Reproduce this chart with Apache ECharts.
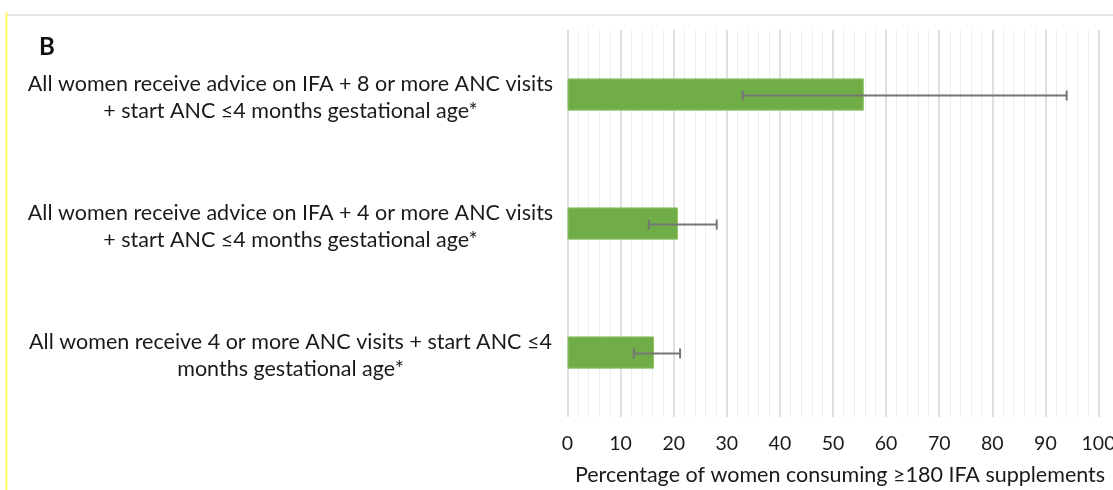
<!DOCTYPE html>
<html>
<head>
<meta charset="utf-8">
<script src="https://cdn.jsdelivr.net/npm/echarts@6/dist/echarts.min.js"></script>
<style>
  html, body { margin: 0; padding: 0; background: #ffffff; overflow: hidden; }
  #chart { width: 1113px; height: 490px; }
</style>
</head>
<body>
<div id="chart"></div>
<script>
// Scenario labels (top to bottom)
const categories = [
  'All women receive advice on IFA + 8 or more ANC visits\n+ start ANC \u22644 months gestational age*',
  'All women receive advice on IFA + 4 or more ANC visits\n+ start ANC \u22644 months gestational age*',
  'All women receive 4 or more ANC visits + start ANC \u22644\nmonths gestational age*'
];
// Estimated percentage and uncertainty interval for each scenario
const values = [55.8, 20.8, 16.3];
const lowerBounds = [33.0, 15.3, 12.5];
const upperBounds = [94.0, 28.1, 21.2];
const xTicks = [0, 10, 20, 30, 40, 50, 60, 70, 80, 90, 100];

const FONT = 'Lato, "Open Sans", sans-serif';

const chart = echarts.init(document.getElementById('chart'), null, { renderer: 'canvas' });

const errorData = categories.map((c, i) => [i, lowerBounds[i], upperBounds[i]]);

chart.setOption({
  animation: false,
  backgroundColor: '#ffffff',
  textStyle: { fontFamily: FONT },
  // fixed plot area; labels are allowed to run to the canvas edge
  grid: { left: 567.5, right: 14.5, top: 30, bottom: 73, containLabel: false, outerBoundsMode: 'none' },
  xAxis: {
    type: 'value',
    min: xTicks[0],
    max: xTicks[xTicks.length - 1],
    interval: 10,
    name: 'Percentage of women consuming \u2265180 IFA supplements',
    nameLocation: 'middle',
    nameGap: 47.5,
    nameTextStyle: { fontSize: 21.5, color: '#1a1a1a', fontFamily: FONT, padding: [0, 0, 0, 14] },
    axisLine: { show: false },
    axisTick: { show: false },
    axisLabel: { fontSize: 19.5, color: '#1a1a1a', margin: 17, fontFamily: FONT },
    splitLine: { show: true, lineStyle: { color: '#d9d9d9', width: 1.6 } },
    minorTick: { show: false, splitNumber: 5 },
    minorSplitLine: { show: true, lineStyle: { color: '#eeeeee', width: 1 } }
  },
  yAxis: {
    type: 'category',
    data: categories,
    inverse: true,
    axisLine: { show: false },
    axisTick: { show: false },
    axisLabel: {
      align: 'center',
      margin: 277,
      // a thin spacer line on top nudges each two-line label slightly downward
      formatter: function (v) {
        return '{gap| }\n' + v.split('\n').map(function (s) { return '{t|' + s + '}'; }).join('\n');
      },
      rich: {
        gap: { fontSize: 2, lineHeight: 6 },
        t: { fontSize: 21.5, lineHeight: 27, color: '#1a1a1a', fontFamily: FONT, align: 'center' }
      }
    },
    splitLine: { show: false }
  },
  graphic: [
    { type: 'line', shape: { x1: 7, y1: 15, x2: 1113, y2: 15 }, style: { stroke: '#e4e4e4', lineWidth: 2 }, silent: true },
    { type: 'line', shape: { x1: 6.5, y1: 12, x2: 6.5, y2: 490 }, style: { stroke: '#ffff66', lineWidth: 2 }, silent: true },
    { type: 'text', left: 39, top: 35, style: { text: 'B', font: 'bold 24px ' + FONT, fill: '#111111' }, silent: true }
  ],
  series: [
    {
      type: 'bar',
      data: values,
      barWidth: '25%',
      itemStyle: { color: '#70ad47', borderColor: '#8fc46a', borderWidth: 1 },
      silent: true
    },
    {
      type: 'custom',
      data: errorData,
      silent: true,
      z: 5,
      renderItem: function (params, api) {
        const idx = api.value(0);
        const lo = api.coord([api.value(1), idx]);
        const hi = api.coord([api.value(2), idx]);
        const y = lo[1] + 1;
        const cap = 5;
        const style = { stroke: '#767676', lineWidth: 2 };
        return {
          type: 'group',
          children: [
            { type: 'line', shape: { x1: lo[0], y1: y, x2: hi[0], y2: y }, style: style },
            { type: 'line', shape: { x1: lo[0], y1: y - cap, x2: lo[0], y2: y + cap }, style: style },
            { type: 'line', shape: { x1: hi[0], y1: y - cap, x2: hi[0], y2: y + cap }, style: style }
          ]
        };
      }
    }
  ]
});
</script>
</body>
</html>
